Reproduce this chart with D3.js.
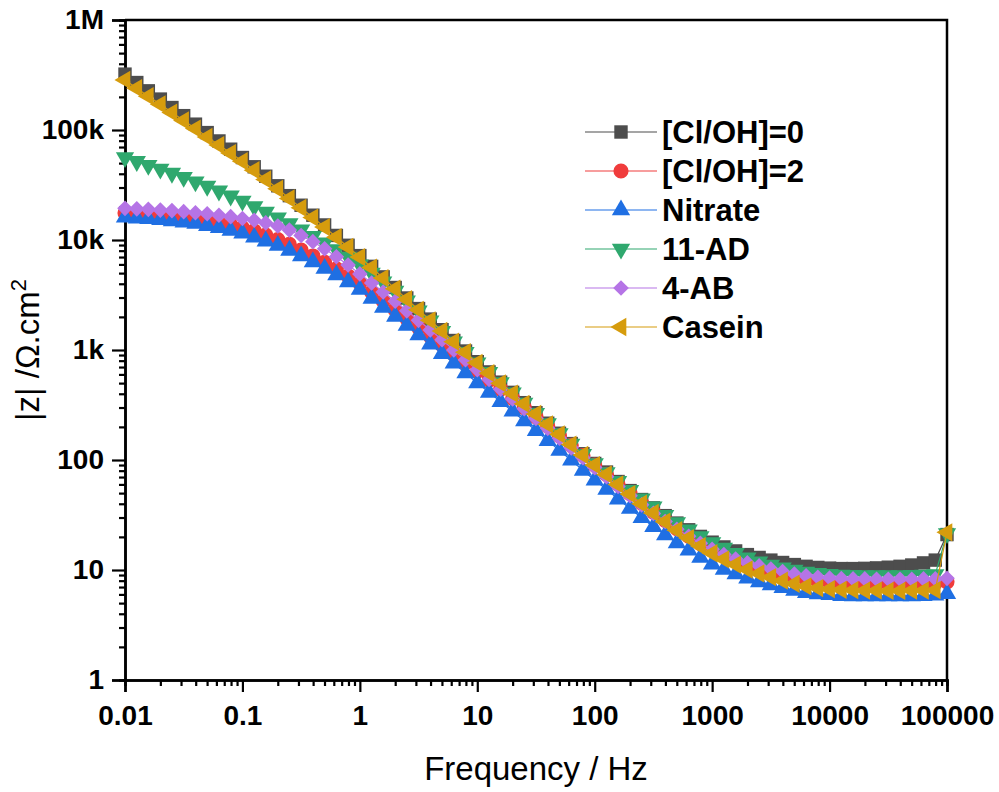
<!DOCTYPE html>
<html>
<head>
<meta charset="utf-8">
<script src="https://cdn.jsdelivr.net/npm/d3@7"></script>
<style>
  body { margin: 0; background: #fff; }
  svg { display: block; font-family: "Liberation Sans", Arial, sans-serif; }
</style>
</head>
<body>
<svg width="999" height="792"></svg>
<script>
// Frequencies (Hz), 10 points per decade
var freq = [0.01, 0.0126, 0.0158, 0.02, 0.0251, 0.0316, 0.0398, 0.0501, 0.0631, 0.0794,
  0.1, 0.126, 0.158, 0.2, 0.251, 0.316, 0.398, 0.501, 0.631, 0.794,
  1, 1.26, 1.58, 2, 2.51, 3.16, 3.98, 5.01, 6.31, 7.94,
  10, 12.6, 15.8, 20, 25.1, 31.6, 39.8, 50.1, 63.1, 79.4,
  100, 126, 158, 200, 251, 316, 398, 501, 631, 794,
  1000, 1259, 1585, 1995, 2512, 3162, 3981, 5012, 6310, 7943,
  10000, 12589, 15849, 19953, 25119, 31623, 39811, 50119, 63096, 79433, 100000];

// |Z| values (ohm.cm2) for each sample
var clOH0 = [322000, 270000, 227000, 191000, 160000, 135000, 113000, 94700, 79500, 66900,
  56200, 46300, 38000, 31100, 25300, 20700, 16800, 13700, 11000, 8950,
  7210, 5760, 4620, 3700, 2970, 2380, 1910, 1530, 1220, 979,
  783, 632, 510, 412, 332, 269, 216, 175, 141, 114,
  93, 77.7, 63.7, 52.7, 43.7, 36.7, 31.2, 26.7, 23.2, 20.2,
  17.9, 16.2, 14.9, 13.8, 13.0, 12.3, 11.7, 11.2, 10.8, 10.55,
  10.4, 10.3, 10.3, 10.35, 10.45, 10.6, 10.8, 11.1, 11.6, 12.3, 21];

var clOH2 = [17600, 17400, 17100, 16900, 16500, 16100, 15600, 15100, 14400, 13700,
  12900, 12100, 11100, 10100, 9120, 8090, 7160, 6280, 5470, 4710,
  4030, 3350, 2790, 2320, 1930, 1600, 1330, 1110, 923, 767,
  638, 531, 440, 363, 299, 247, 203, 166, 136, 110,
  89.7, 74.0, 60.2, 49.4, 40.5, 33.6, 28.2, 23.8, 20.3, 17.4,
  15.1, 13.4, 12.1, 11.0, 10.3, 9.6, 9.0, 8.5, 8.1, 7.85,
  7.7, 7.6, 7.55, 7.5, 7.5, 7.5, 7.5, 7.5, 7.55, 7.6, 7.8];

var nitrate = [16100, 15800, 15600, 15300, 14900, 14500, 14100, 13500, 12900, 12200,
  11500, 10600, 9770, 8910, 8040, 7160, 6310, 5500, 4820, 4150,
  3550, 2940, 2440, 2020, 1670, 1370, 1130, 927, 757, 617,
  501, 412, 338, 277, 226, 185, 150, 122, 99.3, 80.5,
  65.5, 54.1, 44.1, 36.2, 29.8, 24.7, 20.8, 17.6, 15.1, 13.0,
  11.3, 10.1, 9.2, 8.4, 7.8, 7.3, 6.9, 6.5, 6.2, 6.05,
  5.95, 5.85, 5.8, 5.8, 5.8, 5.8, 5.8, 5.8, 5.85, 5.9, 6.1];

var ad11 = [56200, 51900, 47900, 44200, 40600, 37200, 33900, 30900, 28000, 25200,
  22600, 20200, 18000, 15900, 14100, 12400, 10800, 9440, 8170, 7000,
  5960, 5010, 4170, 3430, 2800, 2270, 1840, 1480, 1190, 955,
  767, 626, 506, 408, 329, 266, 214, 174, 140, 113,
  93, 77, 64, 53, 44.5, 37.5, 31.5, 27, 23.2, 20.2,
  17.8, 15.8, 14.2, 12.9, 11.9, 11.1, 10.5, 10.0, 9.6, 9.35,
  9.15, 9.0, 8.95, 8.9, 8.9, 8.9, 8.9, 8.95, 9.0, 9.1, 21.5];

var ab4 = [19400, 19200, 19000, 18700, 18500, 18100, 17700, 17300, 16800, 16300,
  15700, 15100, 14300, 13400, 12300, 11000, 9660, 8320, 7050, 5920,
  4920, 4070, 3370, 2770, 2270, 1860, 1520, 1240, 1000, 815,
  661, 540, 440, 358, 292, 238, 194, 158, 129, 105,
  85.3, 70.4, 57.5, 47.4, 39.1, 32.7, 27.6, 23.5, 20.3, 17.5,
  15.4, 13.8, 12.6, 11.6, 10.9, 10.2, 9.7, 9.2, 8.85, 8.6,
  8.45, 8.35, 8.3, 8.3, 8.25, 8.25, 8.25, 8.25, 8.3, 8.3, 8.4];

var casein = [285000, 240000, 203000, 171000, 144000, 122000, 103000, 86500, 72900, 61700,
  52000, 43100, 35500, 29200, 23900, 19600, 16000, 13100, 10600, 8650,
  7000, 5620, 4510, 3610, 2900, 2320, 1860, 1490, 1190, 955,
  764, 617, 498, 402, 324, 262, 211, 171, 138, 111,
  90, 74, 60, 49, 40, 33, 27.5, 23, 19.5, 16.5,
  14.2, 12.5, 11.2, 10.1, 9.3, 8.6, 8.0, 7.5, 7.1, 6.85,
  6.7, 6.6, 6.55, 6.5, 6.5, 6.45, 6.45, 6.5, 6.5, 6.55, 22];

var seriesNames = ["[Cl/OH]=0", "[Cl/OH]=2", "Nitrate", "11-AD", "4-AB", "Casein"];
var seriesValues = [clOH0, clOH2, nitrate, ad11, ab4, casein];
var seriesColors = ["#4d4d4d", "#f03c3c", "#1f6fe3", "#2fa86e", "#b574e6", "#d69c0d"];

// Axis ticks
var xTicks = [0.01, 0.1, 1, 10, 100, 1000, 10000, 100000];
var xTickLabels = ["0.01", "0.1", "1", "10", "100", "1000", "10000", "100000"];
var yTicks = [1, 10, 100, 1000, 10000, 100000, 1000000];
var yTickLabels = ["1", "10", "100", "1k", "10k", "100k", "1M"];

var svg = d3.select("svg");
var plotLeft = 125, plotRight = 947, plotTop = 20, plotBottom = 680;

var x = d3.scaleLog().domain([0.01, 100000]).range([plotLeft, plotRight]);
var y = d3.scaleLog().domain([1, 1000000]).range([plotBottom, plotTop]);

// minor tick positions (2..9 in each decade)
function minors(ticks) {
  var out = [];
  ticks.slice(0, -1).forEach(function(t) {
    for (var k = 2; k <= 9; k++) out.push(t * k);
  });
  return out;
}

// frame (top + right)
svg.append("path")
  .attr("d", "M" + plotLeft + "," + plotTop + "H" + plotRight + "V" + plotBottom)
  .attr("fill", "none")
  .attr("stroke", "#000")
  .attr("stroke-width", 2.5);

// x axis
var gx = svg.append("g").attr("transform", "translate(0," + plotBottom + ")");
gx.call(d3.axisBottom(x).tickValues(minors(xTicks)).tickSize(6).tickFormat(""));
gx.append("g").call(d3.axisBottom(x).tickValues(xTicks).tickSize(12).tickPadding(13)
  .tickFormat(function(d, i) { return xTickLabels[i]; }));

// y axis
var gy = svg.append("g").attr("transform", "translate(" + plotLeft + ",0)");
gy.call(d3.axisLeft(y).tickValues(minors(yTicks)).tickSize(6).tickFormat(""));
gy.append("g").call(d3.axisLeft(y).tickValues(yTicks).tickSize(13).tickPadding(8)
  .tickFormat(function(d, i) { return yTickLabels[i]; }));

svg.selectAll(".domain").attr("stroke-width", 2.5);
svg.selectAll(".tick line").attr("stroke-width", 2.2);
svg.selectAll(".tick text")
  .attr("font-family", "Liberation Sans, Arial, sans-serif")
  .attr("font-weight", "bold")
  .attr("font-size", 28)
  .attr("fill", "#000");

// marker shapes
var diamond = d3.symbolDiamond2 || d3.symbolDiamond;
var shapes = [
  {type: d3.symbolSquare, size: 180, rot: 0},
  {type: d3.symbolCircle, size: 180, rot: 0},
  {type: d3.symbolTriangle, size: 145, rot: 0},
  {type: d3.symbolTriangle, size: 145, rot: 180},
  {type: diamond, size: 155, rot: 0},
  {type: d3.symbolTriangle, size: 145, rot: -90}
];

var line = d3.line()
  .x(function(d, i) { return x(freq[i]); })
  .y(function(d) { return y(d); });

seriesValues.forEach(function(vals, s) {
  var g = svg.append("g");
  g.append("path")
    .attr("d", line(vals))
    .attr("fill", "none")
    .attr("stroke", seriesColors[s])
    .attr("stroke-width", 1.2);
  var sym = d3.symbol().type(shapes[s].type).size(shapes[s].size);
  g.selectAll("path.pt")
    .data(vals)
    .enter()
    .append("path")
      .attr("class", "pt")
      .attr("d", sym)
      .attr("transform", function(d, i) {
        return "translate(" + x(freq[i]) + "," + y(d) + ") rotate(" + shapes[s].rot + ")";
      })
      .attr("fill", seriesColors[s]);
});

// legend
var legend = svg.append("g");
seriesNames.forEach(function(name, s) {
  var ly = 132 + s * 39;
  legend.append("line")
    .attr("x1", 585).attr("x2", 657)
    .attr("y1", ly).attr("y2", ly)
    .attr("stroke", seriesColors[s])
    .attr("stroke-width", 1.2);
  legend.append("path")
    .attr("d", d3.symbol().type(shapes[s].type).size(shapes[s].size)())
    .attr("transform", "translate(621," + ly + ") rotate(" + shapes[s].rot + ")")
    .attr("fill", seriesColors[s]);
  legend.append("text")
    .attr("x", 662)
    .attr("y", ly + 11)
    .attr("font-size", 31)
    .attr("font-weight", "bold")
    .text(name);
});

// axis titles
svg.append("text")
  .attr("x", 536)
  .attr("y", 780)
  .attr("text-anchor", "middle")
  .attr("font-size", 33)
  .text("Frequency / Hz");

var yt = svg.append("text")
  .attr("transform", "translate(39,350) rotate(-90)")
  .attr("text-anchor", "middle")
  .attr("font-size", 33);
yt.append("tspan").text("|z| /\u03A9.cm");
yt.append("tspan").attr("dy", -13).attr("font-size", 22).text("2");
</script>
</body>
</html>
